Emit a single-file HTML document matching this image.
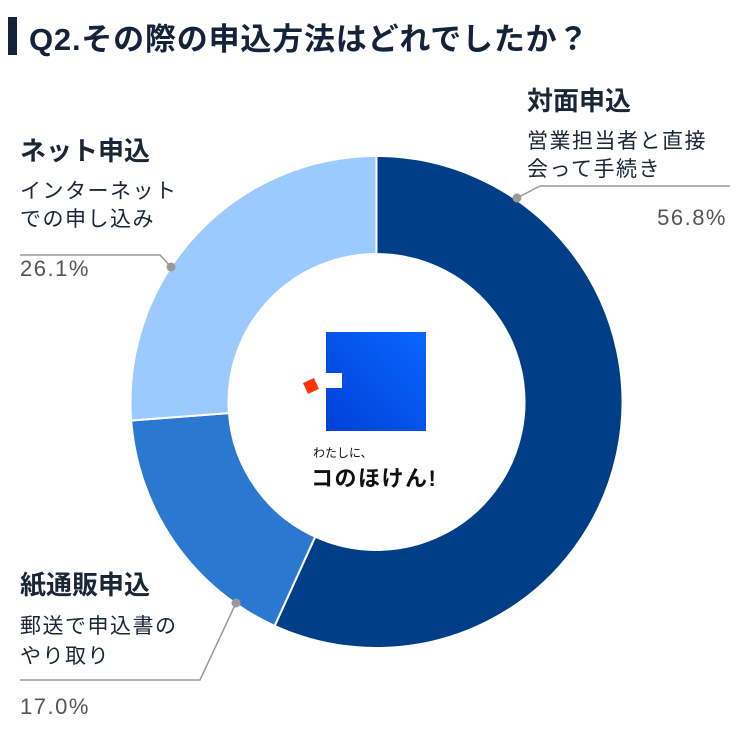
<!DOCTYPE html>
<html><head><meta charset="utf-8"><style>
body{margin:0;background:#fff;}
svg text{font-family:"Liberation Sans","Noto Sans CJK JP",sans-serif;}
</style></head><body>
<svg width="750" height="750" viewBox="0 0 750 750" xmlns="http://www.w3.org/2000/svg">
<rect width="750" height="750" fill="#fff"/>
<rect x="8" y="17" width="9" height="38" fill="#15233a"/>
<text x="29" y="50" font-size="31" font-weight="bold" fill="#15233a" letter-spacing="0.8">Q2.その際の申込方法はどれでしたか？</text>
<g stroke="#fff" stroke-width="2">
<path d="M376.5 156 A246 246 0 1 1 274.6 625.9 L315.2 536.7 A148 148 0 1 0 376.5 254 Z" fill="#003f87"/>
<path d="M274.6 625.9 A246 246 0 0 1 131.2 420.5 L228.9 413.1 A148 148 0 0 0 315.2 536.7 Z" fill="#2b78d0"/>
<path d="M131.2 420.5 A246 246 0 0 1 376.5 156 L376.5 254 A148 148 0 0 0 228.9 413.1 Z" fill="#9ccaff"/>
</g>
<defs><linearGradient id="g" x1="1" y1="0" x2="0" y2="1"><stop offset="0" stop-color="#0a66ff"/><stop offset="1" stop-color="#0040d8"/></linearGradient></defs>
<rect x="326" y="332" width="100" height="99" fill="url(#g)"/>
<rect x="326" y="373" width="16" height="15" fill="#fff"/>
<rect x="305" y="380" width="12" height="12" fill="#ff3300" transform="rotate(-25 311 386)"/>
<text x="313" y="457" font-size="12" fill="#111">わたしに、</text>
<text x="311" y="486" font-size="22" font-weight="bold" fill="#111" letter-spacing="1.5">コのほけん!</text>
<g stroke="#999" stroke-width="1.5" fill="none">
<polyline points="517,198 540,186 730,186"/>
<polyline points="171,267 160,255 20,255"/>
<polyline points="236,603 200,680 20,680"/>
</g>
<g fill="#999"><circle cx="517" cy="198" r="4.5"/><circle cx="171" cy="267" r="4.5"/><circle cx="236" cy="603" r="4.5"/></g>
<g fill="#1a2535">
<text x="527" y="110" font-size="26" font-weight="bold">対面申込</text>
<text x="527" y="148" font-size="21" letter-spacing="1.5">営業担当者と直接</text>
<text x="527" y="176" font-size="21" letter-spacing="1.5">会って手続き</text>
<text x="20" y="160" font-size="26" font-weight="bold">ネット申込</text>
<text x="20" y="198" font-size="21" letter-spacing="1.5">インターネット</text>
<text x="20" y="226" font-size="21" letter-spacing="1.5">での申し込み</text>
<text x="20" y="594" font-size="26" font-weight="bold">紙通販申込</text>
<text x="20" y="633" font-size="21" letter-spacing="1.5">郵送で申込書の</text>
<text x="20" y="663" font-size="21" letter-spacing="1.5">やり取り</text>
</g>
<g fill="#555" font-size="22" letter-spacing="1.5">
<text x="727" y="225" text-anchor="end">56.8%</text>
<text x="20" y="276">26.1%</text>
<text x="20" y="714">17.0%</text>
</g>
</svg>
</body></html>
